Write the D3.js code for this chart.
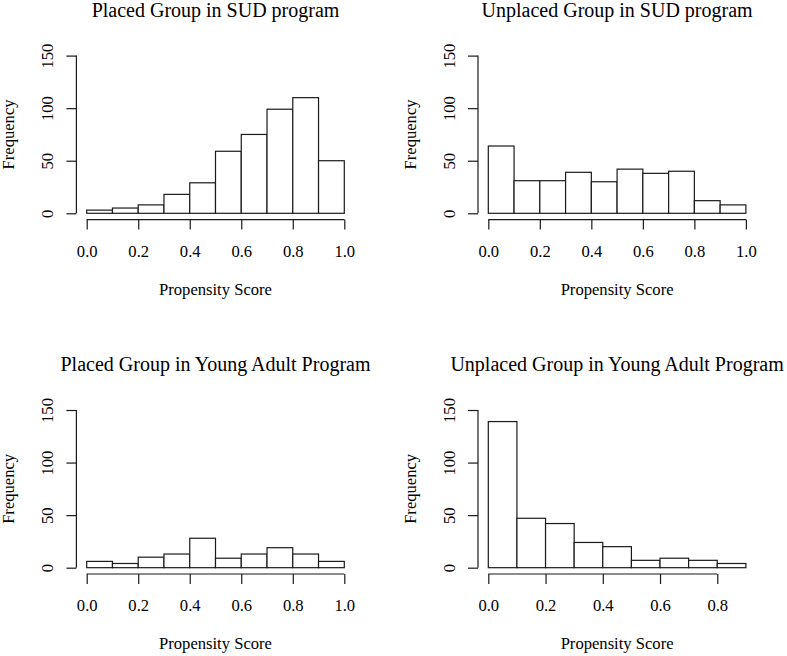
<!doctype html>
<html lang="en">
<head>
    <meta charset="utf-8">
    <title>Propensity Score Histograms</title>
    <style>
        html, body {
            margin: 0;
            padding: 0;
            background: #fff;
        }

        svg text {
            font-family: "Liberation Serif", "Times New Roman", serif;
            fill: #000;
        }
    </style>
</head>
<body>
    <svg width="787" height="656"></svg>

    <script src="https://d3js.org/d3.v7.min.js"></script>
    <script>
        // histogram breaks + counts
        var breaks = [0.0, 0.1, 0.2, 0.3, 0.4, 0.5, 0.6, 0.7, 0.8, 0.9, 1.0];
        var breaksYA = [0.0, 0.1, 0.2, 0.3, 0.4, 0.5, 0.6, 0.7, 0.8, 0.9];

        var countsPlacedSUD = [3, 5, 8, 18, 29, 59, 75, 99, 110, 50];
        var countsUnplacedSUD = [64, 31, 31, 39, 30, 42, 38, 40, 12, 8];
        var countsPlacedYA = [6, 4, 10, 13, 28, 9, 13, 19, 13, 6];
        var countsUnplacedYA = [139, 47, 42, 24, 20, 7, 9, 7, 4];

        var xTicks = [0.0, 0.2, 0.4, 0.6, 0.8, 1.0];
        var xTicksYA = [0.0, 0.2, 0.4, 0.6, 0.8];
        var yTicks = [0, 50, 100, 150];

        var titles = [
            "Placed Group in SUD program",
            "Unplaced Group in SUD program",
            "Placed Group in Young Adult Program",
            "Unplaced Group in Young Adult Program"
        ];

        var panels = [
            { title: titles[0], breaks: breaks, counts: countsPlacedSUD, ticks: xTicks, left: 76.4, top: 49.3 },
            { title: titles[1], breaks: breaks, counts: countsUnplacedSUD, ticks: xTicks, left: 478, top: 49.3 },
            { title: titles[2], breaks: breaks, counts: countsPlacedYA, ticks: xTicks, left: 76.4, top: 403.7 },
            { title: titles[3], breaks: breaksYA, counts: countsUnplacedYA, ticks: xTicksYA, left: 478, top: 403.7 }
        ];

        var pw = 278.2, ph = 170.3;
        var lineColor = "#1a1a1a", lw = 1.2;
        var serif = "'Liberation Serif', 'Times New Roman', serif";

        var svg = d3.select("svg");

        panels.forEach(function(p) {
            var lo = p.breaks[0], hi = p.breaks[p.breaks.length - 1];
            var pad = (hi - lo) * 0.04;

            var x = d3.scaleLinear()
                .domain([lo - pad, hi + pad])
                .range([p.left, p.left + pw]);

            var y = d3.scaleLinear()
                .domain([-6, 156])
                .range([p.top + ph, p.top]);

            var g = svg.append("g");

            // bars
            var bins = p.counts.map(function(c, i) {
                return { x0: p.breaks[i], x1: p.breaks[i + 1], n: c };
            });

            g.selectAll("rect")
                .data(bins)
                .enter().append("rect")
                .attr("x", function(d) { return x(d.x0); })
                .attr("y", function(d) { return y(d.n); })
                .attr("width", function(d) { return x(d.x1) - x(d.x0); })
                .attr("height", function(d) { return y(0) - y(d.n); })
                .attr("fill", "#fff")
                .attr("stroke", lineColor)
                .attr("stroke-width", lw);

            // x axis
            var xAxis = g.append("g")
                .attr("transform", "translate(0," + (p.top + ph) + ")")
                .call(d3.axisBottom(x)
                    .tickValues(p.ticks)
                    .tickSize(10)
                    .tickSizeOuter(0)
                    .tickFormat(d3.format(".1f")));
            xAxis.attr("font-family", null);
            xAxis.select(".domain").remove();
            xAxis.append("line")
                .attr("x1", x(p.ticks[0]))
                .attr("x2", x(p.ticks[p.ticks.length - 1]))
                .attr("stroke", lineColor)
                .attr("stroke-width", lw);
            xAxis.selectAll(".tick line")
                .attr("stroke", lineColor)
                .attr("stroke-width", lw);
            xAxis.selectAll(".tick text")
                .attr("y", 37)
                .attr("dy", null)
                .style("font-family", serif)
                .style("font-size", "16.6px");

            // y axis
            var yAxis = g.append("g")
                .attr("transform", "translate(" + p.left + ",0)")
                .call(d3.axisLeft(y)
                    .tickValues(yTicks)
                    .tickSize(10)
                    .tickSizeOuter(0));
            yAxis.attr("font-family", null);
            yAxis.select(".domain").remove();
            yAxis.append("line")
                .attr("y1", y(yTicks[0]))
                .attr("y2", y(yTicks[yTicks.length - 1]))
                .attr("stroke", lineColor)
                .attr("stroke-width", lw);
            yAxis.selectAll(".tick line")
                .attr("stroke", lineColor)
                .attr("stroke-width", lw);
            yAxis.selectAll(".tick text")
                .attr("x", null)
                .attr("dy", null)
                .attr("transform", "translate(-23.4,0) rotate(-90)")
                .attr("text-anchor", "middle")
                .style("font-family", serif)
                .style("font-size", "16.6px");

            // labels
            g.append("text")
                .attr("x", p.left + pw / 2)
                .attr("y", p.top - 32.5)
                .attr("text-anchor", "middle")
                .style("font-size", "20px")
                .text(p.title);

            g.append("text")
                .attr("x", p.left + pw / 2)
                .attr("y", p.top + ph + 75)
                .attr("text-anchor", "middle")
                .style("font-size", "16.6px")
                .text("Propensity Score");

            g.append("text")
                .attr("transform", "translate(" + (p.left - 62) + "," + (p.top + ph / 2) + ") rotate(-90)")
                .attr("text-anchor", "middle")
                .style("font-size", "16.6px")
                .text("Frequency");
        });
    </script>
</body>
</html>
